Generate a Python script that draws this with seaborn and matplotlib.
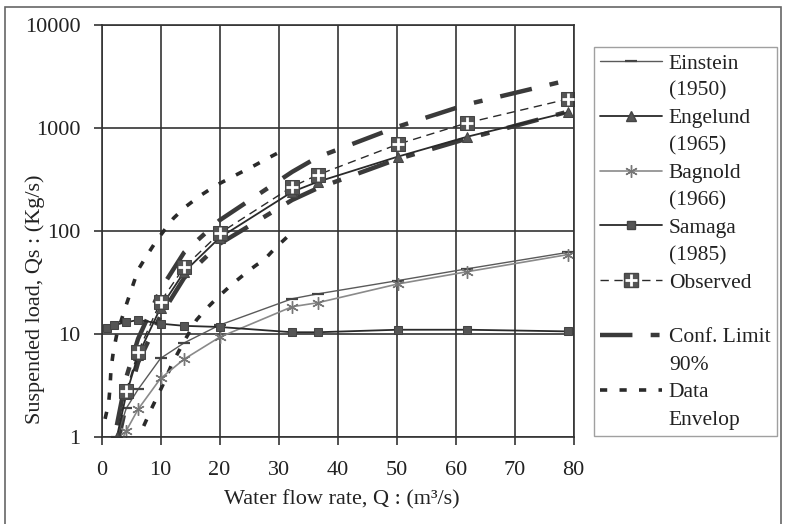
import matplotlib
matplotlib.use("Agg")
import matplotlib.pyplot as plt
import seaborn as sns
import numpy as np
from matplotlib.lines import Line2D
from matplotlib.patches import Rectangle
from matplotlib.ticker import FixedLocator, FixedFormatter, NullLocator

# ---------------- data ----------------
q_model = [2.6, 4.2, 6.2, 10, 14, 20, 32.3, 36.6, 50.2, 62, 79]
einstein = [1.0, 1.9, 2.9, 5.8, 8.2, 12.2, 22, 24.5, 33, 43, 62]
engelund = [1.0, 2.6, 6.2, 18, 40, 86, 240, 300, 527, 824, 1420]
bagnold = [0.75, 1.15, 1.86, 3.7, 5.7, 9.3, 18.4, 20.1, 30.6, 40.3, 59]

q_samaga = [0.9, 2.1, 4.2, 6.2, 10, 14, 20, 32.3, 36.6, 50.2, 62, 79]
samaga = [11.4, 12.2, 13.0, 13.7, 12.6, 12.0, 11.7, 10.4, 10.4, 11.0, 11.0, 10.6]

q_obs = [4.2, 6.2, 10, 14, 20, 32.3, 36.6, 50.2, 62, 79]
observed = [2.8, 6.7, 20.6, 44.5, 95, 269, 350, 695, 1124, 1910]

q_conf = [2.6, 4.2, 6.2, 10, 14, 20, 32.3, 36.6, 50.2, 62, 80]
conf_upper = [1.3, 3.8, 9, 27, 62, 127, 375, 520, 1030, 1700, 3000]
conf_lower = [0.8, 2.1, 5.3, 15, 35, 75, 200, 260, 500, 790, 1490]

q_env_up = [0.6, 1.2, 1.44, 1.6, 2.0, 2.6, 4.3, 6.2, 7.7, 9.4, 12.2, 14.2, 16.7, 19.5, 23.2, 26, 28.6, 31.5]
env_upper = [1.5, 2.1, 3.0, 4.5, 6.7, 10, 20, 42, 58, 82, 133, 171, 220, 279, 360, 435, 524, 640]
q_env_lo = [6.0, 7.1, 8.5, 10.5, 12, 14, 16.1, 17.8, 19.8, 22.3, 24.9, 26.3, 27.5, 29.4, 31.5]
env_lower = [0.85, 1.26, 1.9, 3.3, 5.2, 8.5, 13.7, 17.7, 23, 31, 41, 47, 52, 68, 88]

x_ticks = [0, 10, 20, 30, 40, 50, 60, 70, 80]
y_ticks = [1, 10, 100, 1000, 10000]
y_tick_labels = ["1", "10", "100", "1000", "10000"]

legend_rows = ["Einstein", "(1950)", "Engelund", "(1965)", "Bagnold", "(1966)",
               "Samaga", "(1985)", "Observed", " ", "Conf. Limit", "90%", "Data", "Envelop"]

# ---------------- style ----------------
sns.set_theme(style="white")
plt.rcParams["font.family"] = ["Liberation Serif", "DejaVu Serif"]
plt.rcParams["font.size"] = 16

W, H = 787, 524
fig = plt.figure(figsize=(W / 100, H / 100), dpi=100)
ax = fig.add_axes([101.5 / W, 1 - 437 / H, (573.7 - 101.5) / W, (437 - 25) / H])

grid_c = "#333333"
dark = "#2a2a2a"
text_c = "#222222"

def draw(x, y, **kw):
    sns.lineplot(x=x, y=y, ax=ax, estimator=None, sort=False, legend=False, **kw)
    return ax.lines[-1]

env_dash = [2.0, 3.4]
conf_dash = [7.3, 4.1, 2.0, 4.1]

# Data envelope
for xx, yy in [(q_env_up, env_upper), (q_env_lo, env_lower)]:
    l = draw(xx, yy, color=dark, linewidth=2.6)
    l.set_dashes(env_dash)
    l.set_dash_capstyle("butt")

# Confidence limits
for yy in [conf_upper, conf_lower]:
    l = draw(q_conf, yy, color="#3a3a3a", linewidth=3.2)
    l.set_dashes(conf_dash)

# Models
draw(q_model, einstein, color="#5a5a5a", linewidth=1.0, marker="_", markersize=9,
     markeredgewidth=1.6, markeredgecolor="#444444")
draw(q_model, bagnold, color="#8a8a8a", linewidth=1.2, marker=(6, 2, 0), markersize=9,
     markeredgewidth=1.0, markeredgecolor="#777777")
draw(q_model, engelund, color=dark, linewidth=1.3, marker="^", markersize=6.5,
     markeredgecolor="#444444", markerfacecolor="#555555")
draw(q_samaga, samaga, color=dark, linewidth=1.3, marker="s", markersize=6,
     markeredgecolor="#444444", markerfacecolor="#555555")

# Observed
l = draw(q_obs, observed, color=dark, linewidth=1.0, marker="s", markersize=10.5,
         markeredgecolor="#444444", markerfacecolor="#555555")
l.set_dashes([6, 4])
sns.scatterplot(x=q_obs, y=observed, ax=ax, marker="+", s=70, color="white",
                linewidth=2.0, legend=False, zorder=5)

# ---------------- axes ----------------
ax.set_yscale("log")
ax.set_xlim(0, 80)
ax.set_ylim(1, 10000)
ax.xaxis.set_major_locator(FixedLocator(x_ticks))
ax.yaxis.set_major_locator(FixedLocator(y_ticks))
ax.yaxis.set_major_formatter(FixedFormatter(y_tick_labels))
ax.yaxis.set_minor_locator(NullLocator())
ax.grid(True, which="major", color=grid_c, linewidth=1.2)
for s in ax.spines.values():
    s.set_color(grid_c)
    s.set_linewidth(1.2)
ax.tick_params(axis="both", which="major", direction="out", length=6, width=1.2,
               color=grid_c, labelsize=16, labelcolor=text_c,
               bottom=True, left=True)
ax.tick_params(axis="x", pad=11)
ax.tick_params(axis="y", pad=9)
ax.set_xlabel("")
ax.set_ylabel("")
fig.text(342 / W, 1 - 500 / H, "Water flow rate, Q : (m³/s)", fontsize=16,
         color=text_c, ha="center", va="center")
fig.text(35 / W, 1 - 299 / H, "Suspended load, Qs : (Kg/s)", fontsize=16,
         color=text_c, ha="center", va="center", rotation=90)

# ---------------- legend ----------------
blank = Line2D([], [], linestyle="none")
h_ein = Line2D([], [], color="#5a5a5a", lw=1.0, marker="_", ms=9, mew=1.6, mec="#444444")
h_eng = Line2D([], [], color=dark, lw=1.3, marker="^", ms=6.5, mec="#444444", mfc="#555555")
h_bag = Line2D([], [], color="#8a8a8a", lw=1.2, marker=(6, 2, 0), ms=9, mew=1.0, mec="#777777")
h_sam = Line2D([], [], color=dark, lw=1.3, marker="s", ms=6, mec="#444444", mfc="#555555")
h_obs1 = Line2D([], [], color=dark, lw=1.0, dashes=[6, 4], marker="s", ms=10.5,
                mec="#444444", mfc="#555555")
h_obs2 = Line2D([], [], linestyle="none", marker="+", ms=8, mew=2.0, color="white")
h_conf = Line2D([], [], color="#3a3a3a", lw=3.2, dashes=conf_dash)
h_env = Line2D([], [], color=dark, lw=2.6, dashes=env_dash)
handles = [h_ein, blank, h_eng, blank, h_bag, blank, h_sam, blank,
           (h_obs1, h_obs2), blank, h_conf, blank, h_env, blank]

leg = fig.legend(handles, legend_rows, loc="upper left",
                 bbox_to_anchor=(594 / W, 1 - 47 / H), bbox_transform=fig.transFigure,
                 frameon=True, fancybox=False, shadow=False, fontsize=15.5,
                 handlelength=2.85, handletextpad=0.33, labelspacing=0.34,
                 borderpad=0.3, borderaxespad=0.0)
leg.get_frame().set_edgecolor("#888888")
leg.get_frame().set_linewidth(1.0)
for t in leg.get_texts():
    t.set_color(text_c)

# figure border
fig.patches.append(Rectangle((5 / W, -0.02), (781 - 5) / W, 1 - 7 / H + 0.02,
                             transform=fig.transFigure, fill=False,
                             edgecolor="#666666", linewidth=1.2))

fig.savefig("out.png", dpi=100)
